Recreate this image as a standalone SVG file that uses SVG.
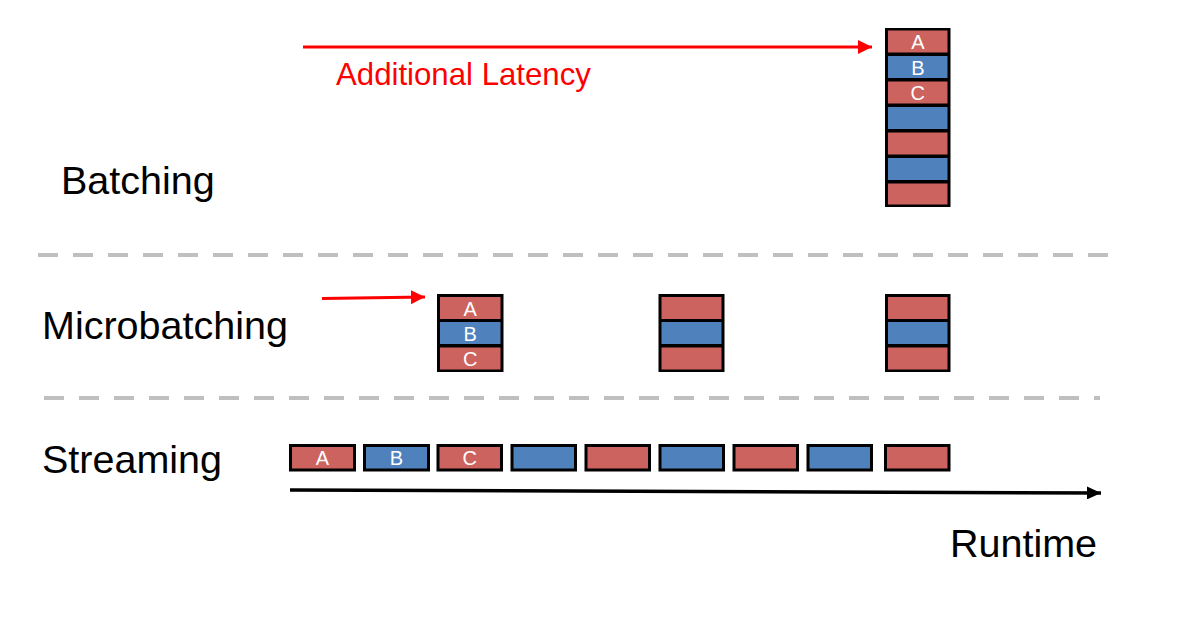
<svg xmlns="http://www.w3.org/2000/svg" width="1184" height="620" viewBox="0 0 1184 620">
<defs>
<style>
.lbl{font-family:"Liberation Sans",Arial,sans-serif;font-size:39.5px;fill:#000}
.cl{font-family:"Liberation Sans",Arial,sans-serif;font-size:20px;fill:#fff;text-anchor:middle}
.r{fill:#CD635E}
.b{fill:#4F81BD}
.frame{fill:#000}
.dash{stroke:#BFBFBF;stroke-width:4;stroke-dasharray:20 15;fill:none}
</style>
<marker id="redhead" viewBox="0 0 10 10" refX="10" refY="5" markerWidth="14" markerHeight="14" markerUnits="userSpaceOnUse" orient="auto"><path d="M0,0L10,5L0,10z" fill="#FF0000"/></marker>
<marker id="blkhead" viewBox="0 0 10 10" refX="10" refY="5" markerWidth="14" markerHeight="13" markerUnits="userSpaceOnUse" orient="auto" preserveAspectRatio="none"><path d="M0,0L10,5L0,10z" fill="#000"/></marker>
</defs>
<rect width="1184" height="620" fill="#fff"/>

<g id="labels">
<text class="lbl" x="61" y="194">Batching</text>
<text class="lbl" x="42" y="339">Microbatching</text>
<text class="lbl" x="42" y="473">Streaming</text>
<text class="lbl" x="950" y="557">Runtime</text>
<text x="336" y="85" font-family="Liberation Sans, Arial, sans-serif" font-size="31.2" fill="#FF0000">Additional Latency</text>
</g>

<g id="connectors">
<line class="dash" x1="38" y1="255" x2="1112" y2="255"/>
<line class="dash" x1="44" y1="398" x2="1100" y2="398"/>
<line x1="303" y1="47" x2="872" y2="47" stroke="#FF0000" stroke-width="3" marker-end="url(#redhead)"/>
<line x1="322" y1="298.5" x2="425" y2="297" stroke="#FF0000" stroke-width="3" marker-end="url(#redhead)"/>
<line x1="290" y1="490" x2="1101" y2="493" stroke="#000" stroke-width="3.5" marker-end="url(#blkhead)"/>
</g>

<g id="batch">
<rect class="frame" x="885" y="28" width="65.5" height="179"/>
<rect class="r" x="888" y="30.5" width="59.5" height="22"/>
<rect class="b" x="888" y="56" width="59.5" height="22"/>
<rect class="r" x="888" y="81.5" width="59.5" height="22"/>
<rect class="b" x="888" y="107" width="59.5" height="22"/>
<rect class="r" x="888" y="132.5" width="59.5" height="22"/>
<rect class="b" x="888" y="158" width="59.5" height="22"/>
<rect class="r" x="888" y="183.5" width="59.5" height="21"/>
<text class="cl" x="917.8" y="49">A</text>
<text class="cl" x="917.8" y="74.5">B</text>
<text class="cl" x="917.8" y="100">C</text>
</g>

<g id="micro1">
<rect class="frame" x="437" y="294" width="66.5" height="78"/>
<rect class="r" x="440" y="297" width="60.5" height="22"/>
<rect class="b" x="440" y="322" width="60.5" height="22"/>
<rect class="r" x="440" y="347.5" width="60.5" height="22"/>
<text class="cl" x="470.2" y="315.5">A</text>
<text class="cl" x="470.2" y="340.5">B</text>
<text class="cl" x="470.2" y="366">C</text>
</g>
<g id="micro2">
<rect class="frame" x="658.5" y="294" width="66" height="78"/>
<rect class="r" x="661.5" y="297" width="60" height="22"/>
<rect class="b" x="661.5" y="322" width="60" height="22"/>
<rect class="r" x="661.5" y="347.5" width="60" height="22"/>
</g>
<g id="micro3">
<rect class="frame" x="885" y="294" width="65.5" height="78"/>
<rect class="r" x="888" y="297" width="59.5" height="22"/>
<rect class="b" x="888" y="322" width="59.5" height="22"/>
<rect class="r" x="888" y="347.5" width="59.5" height="22"/>
</g>

<g id="stream">
<rect class="frame" x="289" y="444" width="67" height="27.5"/><rect class="r" x="292" y="447" width="61" height="21.5"/>
<rect class="frame" x="363" y="444" width="67" height="27.5"/><rect class="b" x="366" y="447" width="61" height="21.5"/>
<rect class="frame" x="436.5" y="444" width="66.5" height="27.5"/><rect class="r" x="439.5" y="447" width="60.5" height="21.5"/>
<rect class="frame" x="510.5" y="444" width="66.5" height="27.5"/><rect class="b" x="513.5" y="447" width="60.5" height="21.5"/>
<rect class="frame" x="584.5" y="444" width="66.5" height="27.5"/><rect class="r" x="587.5" y="447" width="60.5" height="21.5"/>
<rect class="frame" x="658.5" y="444" width="66.5" height="27.5"/><rect class="b" x="661.5" y="447" width="60.5" height="21.5"/>
<rect class="frame" x="732.5" y="444" width="66.5" height="27.5"/><rect class="r" x="735.5" y="447" width="60.5" height="21.5"/>
<rect class="frame" x="806.5" y="444" width="66.5" height="27.5"/><rect class="b" x="809.5" y="447" width="60.5" height="21.5"/>
<rect class="frame" x="884" y="444" width="66.5" height="27.5"/><rect class="r" x="887" y="447" width="60.5" height="21.5"/>
<text class="cl" x="322.5" y="465">A</text>
<text class="cl" x="396.5" y="465">B</text>
<text class="cl" x="469.8" y="465">C</text>
</g>
</svg>
